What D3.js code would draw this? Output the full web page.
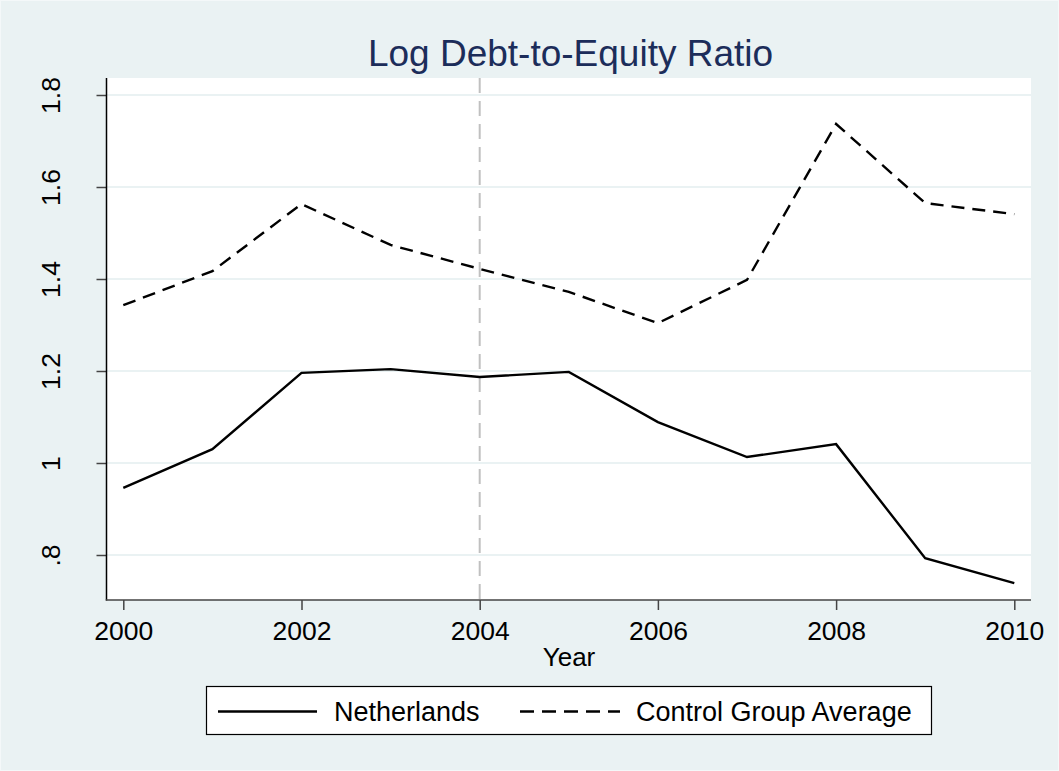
<!DOCTYPE html>
<html>
<head>
<meta charset="utf-8">
<script src="https://cdn.jsdelivr.net/npm/d3@7"></script>
<style>
  html, body { margin: 0; padding: 0; background: #EAF2F3; }
  svg { display: block; }
  text { font-family: "Liberation Sans", Arial, Helvetica, sans-serif; }
</style>
</head>
<body>
<svg id="chart" width="1059" height="771"></svg>
<script>
const years = [2000, 2001, 2002, 2003, 2004, 2005, 2006, 2007, 2008, 2009, 2010];
const netherlands = [0.946, 1.030, 1.196, 1.204, 1.187, 1.198, 1.089, 1.013, 1.041, 0.793, 0.739];
const controlGroup = [1.343, 1.417, 1.563, 1.474, 1.422, 1.372, 1.304, 1.398, 1.737, 1.565, 1.541];
const xTicks = [2000, 2002, 2004, 2006, 2008, 2010];
const yTicks = [0.8, 1.0, 1.2, 1.4, 1.6, 1.8];
const yTickLabels = [".8", "1", "1.2", "1.4", "1.6", "1.8"];
const refYear = 2004;
const seriesNames = ["Netherlands", "Control Group Average"];
const titleText = "Log Debt-to-Equity Ratio";
const xTitle = "Year";

const W = 1059, H = 771;
const plot = { left: 106.5, right: 1031, top: 78, bottom: 600 };

const svg = d3.select("#chart");
svg.append("rect").attr("x", 0).attr("y", 0).attr("width", W).attr("height", H)
  .attr("fill", "#EAF2F3");
svg.append("rect").attr("x", 0.5).attr("y", 0.5).attr("width", W - 1).attr("height", H - 1)
  .attr("fill", "none").attr("stroke", "#F4F8F9").attr("stroke-width", 1);

const x = d3.scaleLinear().domain([2000, 2010]).range([123.3, 1014.3]);
const y = d3.scaleLinear().domain([1.0, 1.8]).range([463, 95]);

// plot region
svg.append("rect").attr("x", plot.left).attr("y", plot.top)
  .attr("width", plot.right - plot.left).attr("height", plot.bottom - plot.top)
  .attr("fill", "#ffffff");

// gridlines
svg.append("g").selectAll("line").data(yTicks).join("line")
  .attr("x1", plot.left).attr("x2", plot.right)
  .attr("y1", d => y(d)).attr("y2", d => y(d))
  .attr("stroke", "#EAF2F3").attr("stroke-width", 2);

// reference line
svg.append("line")
  .attr("x1", x(refYear)).attr("x2", x(refYear))
  .attr("y1", plot.top).attr("y2", plot.bottom)
  .attr("stroke", "#C0C0C0").attr("stroke-width", 2)
  .attr("stroke-dasharray", "15,8");

// lines
const line = d3.line().x((d, i) => x(years[i])).y(d => y(d));
svg.append("path").datum(controlGroup).attr("d", line)
  .attr("fill", "none").attr("stroke", "#000").attr("stroke-width", 2.4)
  .attr("stroke-dasharray", "13,8").attr("stroke-linejoin", "miter");
svg.append("path").datum(netherlands).attr("d", line)
  .attr("fill", "none").attr("stroke", "#000").attr("stroke-width", 2.4)
  .attr("stroke-linejoin", "miter");

// Y axis
const yAxis = d3.axisLeft(y).tickValues(yTicks).tickSize(10).tickPadding(0)
  .tickFormat((d, i) => yTickLabels[i]);
const gy = svg.append("g").attr("transform", `translate(${plot.left},0)`).call(yAxis);
gy.select(".domain").remove();
gy.selectAll(".tick line").attr("stroke", "#444").attr("stroke-width", 1.5);
gy.selectAll(".tick text").remove();
gy.selectAll(".tick").append("text")
  .attr("transform", "translate(-46.5,0) rotate(-90)")
  .attr("text-anchor", "middle")
  .attr("dy", 0)
  .attr("fill", "#000")
  .style("font-size", "26.5px")
  .text((d, i) => yTickLabels[i]);
svg.append("line").attr("x1", plot.left).attr("x2", plot.left)
  .attr("y1", plot.top).attr("y2", plot.bottom + 0.5)
  .attr("stroke", "#000").attr("stroke-width", 1.5);

// X axis
const xAxis = d3.axisBottom(x).tickValues(xTicks).tickSize(10).tickPadding(0)
  .tickFormat(d3.format("d"));
const gx = svg.append("g").attr("transform", `translate(0,${plot.bottom})`).call(xAxis);
gx.select(".domain").remove();
gx.selectAll(".tick line").attr("stroke", "#444").attr("stroke-width", 1.5);
gx.selectAll(".tick text").attr("fill", "#000").attr("y", 40).attr("dy", 0)
  .style("font-size", "26.5px").style("font-family", "Liberation Sans, Arial, sans-serif");
svg.append("line").attr("x1", plot.left - 0.75).attr("x2", plot.right)
  .attr("y1", plot.bottom).attr("y2", plot.bottom)
  .attr("stroke", "#444").attr("stroke-width", 1.5);

// axis title
svg.append("text").attr("x", 569).attr("y", 666).attr("text-anchor", "middle")
  .attr("fill", "#000").style("font-size", "26px").text(xTitle);

// title
svg.append("text").attr("x", 570.5).attr("y", 66).attr("text-anchor", "middle")
  .attr("fill", "#1C2D5A").style("font-size", "37px").text(titleText);

// legend
const lg = svg.append("g");
lg.append("rect").attr("x", 206.5).attr("y", 686.5).attr("width", 725).attr("height", 48)
  .attr("fill", "#fff").attr("stroke", "#000").attr("stroke-width", 1.2);
const legendItems = [
  { name: seriesNames[0], x1: 218, x2: 317, tx: 334, dash: null },
  { name: seriesNames[1], x1: 520, x2: 620, tx: 636, dash: "14,8" }
];
legendItems.forEach(it => {
  lg.append("line").attr("x1", it.x1).attr("x2", it.x2).attr("y1", 711.5).attr("y2", 711.5)
    .attr("stroke", "#000").attr("stroke-width", 2.4)
    .attr("stroke-dasharray", it.dash);
  lg.append("text").attr("x", it.tx).attr("y", 720.5).attr("fill", "#000")
    .style("font-size", "27px").text(it.name);
});
</script>
</body>
</html>
